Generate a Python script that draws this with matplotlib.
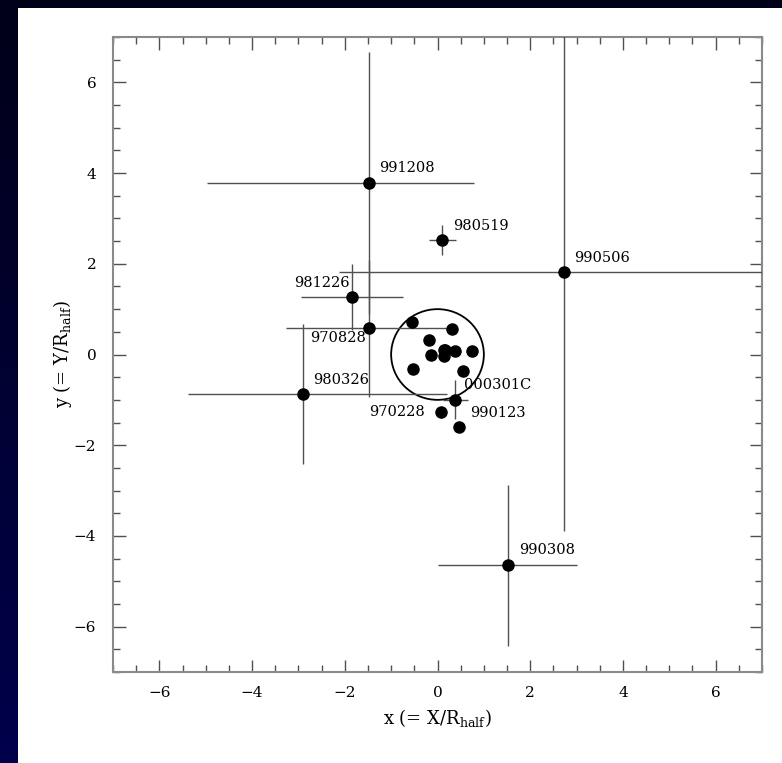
import numpy as np
import matplotlib
matplotlib.use("Agg")
import matplotlib.pyplot as plt
from matplotlib.patches import Circle, Rectangle
from matplotlib.ticker import MultipleLocator
from matplotlib.colors import LinearSegmentedColormap

plt.rcParams['mathtext.fontset'] = 'dejavuserif'

# ---- data ----
names = ['991208', '980519', '990506', '981226', '970828',
         '980326', '000301C', '970228', '990123', '990308']
gx = [-1.48, 0.10, 2.73, -1.84, -1.48, -2.90, 0.38, 0.08, 0.46, 1.52]
gy = [3.78, 2.52, 1.82, 1.27, 0.58, -0.87, -1.00, -1.27, -1.60, -4.65]
xerr_lo = [3.49, 0.29, 4.85, 1.10, 1.78, 2.48, 0.27, 0.0, 0.0, 1.50]
xerr_hi = [2.27, 0.29, 4.85, 1.10, 1.71, 3.10, 0.27, 0.0, 0.0, 1.50]
yerr_lo = [2.89, 0.33, 5.72, 0.73, 1.51, 1.55, 0.43, 0.12, 0.0, 1.77]
yerr_hi = [2.89, 0.33, 5.72, 0.73, 1.51, 1.55, 0.43, 0.12, 0.0, 1.77]

cx = [-0.54, 0.31, -0.18, 0.13, 0.16, 0.14, 0.38, 0.74, -0.13, -0.53, 0.56]
cy = [0.71, 0.56, 0.33, 0.11, 0.11, -0.03, 0.08, 0.08, 0.00, -0.32, -0.36]

# label offsets (pixels) and alignment
lab_dx = [10, 11, 10, -2, -3, 10, 9, -16, 11, 11]
lab_dy = [15, 14, 14, 14, -10, 14, 15, 0, 14, 15]
lab_ha = ['left', 'left', 'left', 'right', 'right', 'left', 'left', 'right', 'left', 'left']

W, H = 782, 763
fig = plt.figure(figsize=(W / 100, H / 100), dpi=100)

# dark gradient frame
bg = fig.add_axes([0, 0, 1, 1], zorder=-10)
grad = np.linspace(0, 1, 256).reshape(-1, 1)
cmap = LinearSegmentedColormap.from_list('nv', ['#000018', '#00004c'])
bg.imshow(grad, aspect='auto', cmap=cmap, extent=[0, 1, 1, 0])
bg.set_axis_off()
fig.add_artist(Rectangle((18 / W, 0), 1, (H - 8) / H, transform=fig.transFigure,
                         facecolor='white', edgecolor='none', zorder=-5))

ax = fig.add_axes([113 / W, (H - 672) / H, (762 - 113) / W, (672 - 37) / H])
ax.set_xlim(-7, 7)
ax.set_ylim(-7, 7)

ecol = '#505050'
ax.errorbar(gx, gy, xerr=[xerr_lo, xerr_hi], yerr=[yerr_lo, yerr_hi],
            fmt='o', color='black', ms=8, ecolor=ecol, elinewidth=1.0,
            capsize=0, zorder=3)
ax.plot(cx, cy, 'o', color='black', ms=8, zorder=3)

ax.add_patch(Circle((0, 0), 1.0, fill=False, edgecolor='black', lw=1.3, zorder=2))

for i, n in enumerate(names):
    ax.annotate(n, (gx[i], gy[i]), xytext=(lab_dx[i], lab_dy[i]),
                textcoords='offset pixels', ha=lab_ha[i], va='center',
                fontsize=10.5, family='DejaVu Serif', zorder=4)

ax.xaxis.set_major_locator(MultipleLocator(2))
ax.xaxis.set_minor_locator(MultipleLocator(0.5))
ax.yaxis.set_major_locator(MultipleLocator(2))
ax.yaxis.set_minor_locator(MultipleLocator(0.5))
ax.tick_params(which='both', direction='in', top=True, right=True, color='#505050')
ax.tick_params(which='major', length=9, width=1.0)
ax.tick_params(which='minor', length=5, width=1.0)
ax.tick_params(axis='x', which='major', pad=10, labelsize=11)
ax.tick_params(axis='y', which='major', pad=12, labelsize=11)
for lab in ax.get_xticklabels() + ax.get_yticklabels():
    lab.set_family('DejaVu Serif')
for s in ax.spines.values():
    s.set_color('#8a8a8a')
    s.set_linewidth(1.5)

ax.set_xlabel(r'x (= X/R$_{\rm half}$)', fontsize=13, family='DejaVu Serif', labelpad=5)
ax.set_ylabel(r'y (= Y/R$_{\rm half}$)', fontsize=13, family='DejaVu Serif', labelpad=0)

fig.savefig('out.png', dpi=100)
